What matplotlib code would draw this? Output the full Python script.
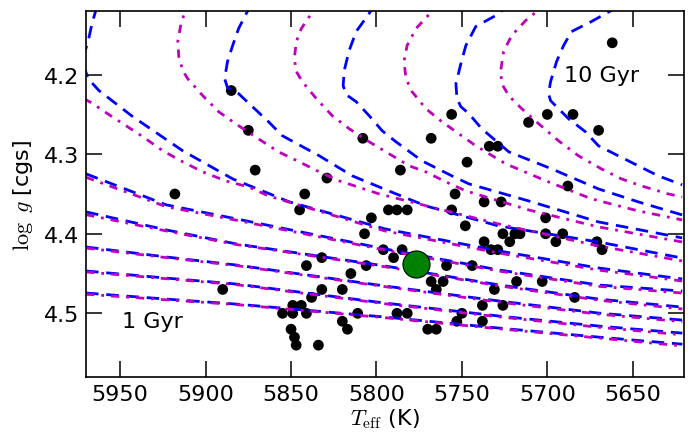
import matplotlib
matplotlib.use("Agg")
import matplotlib.pyplot as plt

plt.rcParams['mathtext.fontset'] = 'cm'
plt.rcParams['font.family'] = 'DejaVu Sans'

# young isochrones (1-5 Gyr) share one Teff grid
young_teff = [5970, 5923, 5882, 5795, 5728, 5670, 5621]

# blue (dashed) model, log g per age
b1_logg = [4.4745, 4.4821, 4.4884, 4.5047, 4.5186, 4.5299, 4.5388]
b2_logg = [4.4468, 4.4557, 4.4632, 4.4871, 4.5035, 4.5160, 4.5249]
b3_logg = [4.4166, 4.4292, 4.4393, 4.4657, 4.4846, 4.4997, 4.5085]
b4_logg = [4.3725, 4.3952, 4.4128, 4.4405, 4.4644, 4.4821, 4.4922]
b5_logg = [4.3247, 4.3637, 4.3813, 4.4191, 4.4456, 4.4644, 4.4720]

# magenta (dash-dot) model
m1_logg = [4.4760, 4.4830, 4.4890, 4.5055, 4.5195, 4.5310, 4.5410]
m2_logg = [4.4480, 4.4565, 4.4640, 4.4880, 4.5045, 4.5175, 4.5270]
m3_logg = [4.4180, 4.4300, 4.4400, 4.4665, 4.4860, 4.5010, 4.5105]
m4_logg = [4.3760, 4.3965, 4.4135, 4.4415, 4.4655, 4.4835, 4.4945]
m5_logg = [4.3290, 4.3660, 4.3830, 4.4205, 4.4470, 4.4660, 4.4745]

# older isochrones with turnoff hooks
b6_teff = [5963.6, 5966.5, 5968.8, 5972.3, 5968.8, 5962.4, 5942.6, 5913.4, 5884.2, 5851.0, 5795, 5728.5, 5670.1, 5621.1]
b6_logg = [4.1144, 4.1358, 4.1584, 4.1824, 4.2050, 4.2201, 4.2529, 4.2957, 4.3310, 4.3599, 4.3939, 4.4216, 4.4430, 4.4568]
b7_teff = [5873.2, 5880.7, 5884.2, 5887.2, 5888.9, 5887.2, 5880.7, 5872.6, 5863.2, 5855.1, 5833.5, 5814.2, 5791.5, 5771.1, 5728.5, 5670.1, 5621.1]
b7_logg = [4.1106, 4.1421, 4.1635, 4.1836, 4.2050, 4.2164, 4.2239, 4.2403, 4.2592, 4.2768, 4.3020, 4.3272, 4.3473, 4.3650, 4.3902, 4.4103, 4.4305]
b8_teff = [5800.8, 5804.3, 5811.9, 5816.0, 5818.9, 5819.5, 5817.7, 5811.9, 5804.3, 5796.7, 5788.6, 5773.4, 5755.9, 5745.9, 5711.0, 5670.1, 5621.1]
b8_logg = [4.1106, 4.1232, 4.1459, 4.1698, 4.1950, 4.2139, 4.2252, 4.2340, 4.2516, 4.2705, 4.2844, 4.3083, 4.3272, 4.3373, 4.3587, 4.3851, 4.4052]
b9_teff = [5721.5, 5730.2, 5741.9, 5747.7, 5750.6, 5753.5, 5752.9, 5750.6, 5745.9, 5738.4, 5722.6, 5697.5, 5670.1, 5646.8, 5621.1]
b9_logg = [4.1106, 4.1257, 4.1395, 4.1635, 4.1861, 4.2113, 4.2302, 4.2403, 4.2491, 4.2680, 4.2970, 4.3184, 4.3436, 4.3599, 4.3763]
b10_teff = [5658.5, 5674.2, 5685.9, 5690.5, 5694.6, 5698.1, 5699.3, 5698.1, 5695.2, 5687.6, 5677.7, 5670.1, 5658.5, 5646.8, 5635.1, 5621.1]
b10_logg = [4.1144, 4.1333, 4.1459, 4.1635, 4.1836, 4.2088, 4.2239, 4.2327, 4.2390, 4.2554, 4.2718, 4.2894, 4.3020, 4.3146, 4.3272, 4.3385]

m6_teff = [5971.2, 5965.9, 5960.1, 5948.4, 5936.7, 5925.1, 5913.4, 5901.7, 5888.3, 5874.9, 5863.2, 5795, 5728.5, 5670.1, 5621.1]
m6_logg = [4.2302, 4.2365, 4.2453, 4.2617, 4.2781, 4.2957, 4.3096, 4.3222, 4.3335, 4.3411, 4.3524, 4.3965, 4.4242, 4.4456, 4.4594]
m7_teff = [5909.3, 5912.2, 5914.6, 5916.3, 5915.7, 5913.4, 5910.5, 5901.7, 5892.4, 5880.7, 5869.1, 5857.4, 5845.2, 5833.5, 5821.8, 5798.5, 5728.5, 5670.1, 5621.1]
m7_logg = [4.1081, 4.1207, 4.1383, 4.1584, 4.1773, 4.1950, 4.2050, 4.2264, 4.2466, 4.2642, 4.2806, 4.2970, 4.3096, 4.3222, 4.3335, 4.3499, 4.3877, 4.4153, 4.4342]
m8_teff = [5835.8, 5839.3, 5844.0, 5846.9, 5848.1, 5846.9, 5843.4, 5835.2, 5825.9, 5816.0, 5804.3, 5792.6, 5780.9, 5771.1, 5759.4, 5747.7, 5711.0, 5670.1, 5621.1]
m8_logg = [4.1081, 4.1270, 4.1421, 4.1584, 4.1799, 4.1962, 4.2088, 4.2302, 4.2516, 4.2680, 4.2844, 4.2995, 4.3146, 4.3222, 4.3348, 4.3461, 4.3700, 4.3914, 4.4103]
m9_teff = [5763.5, 5767.6, 5776.9, 5782.1, 5783.9, 5782.7, 5779.2, 5771.1, 5761.7, 5751.8, 5741.9, 5724.4, 5699.3, 5674.2, 5646.8, 5621.1]
m9_logg = [4.1106, 4.1207, 4.1421, 4.1635, 4.1836, 4.2050, 4.2214, 4.2428, 4.2592, 4.2743, 4.2894, 4.3121, 4.3348, 4.3561, 4.3713, 4.3826]
m10_teff = [5700.5, 5706.3, 5712.7, 5720.9, 5725.6, 5727.3, 5726.7, 5722.6, 5715.0, 5705.1, 5693.5, 5681.8, 5668.4, 5656.7, 5645.0, 5629.3, 5621.1]
m10_logg = [4.1106, 4.1207, 4.1320, 4.1509, 4.1710, 4.1950, 4.2113, 4.2264, 4.2428, 4.2617, 4.2831, 4.3020, 4.3184, 4.3310, 4.3398, 4.3499, 4.3537]

# stars
star_teff = [5662, 5885, 5875, 5871, 5918, 5829, 5842, 5845, 5756, 5768,
             5808, 5711, 5700, 5685, 5670, 5734, 5729, 5747, 5786, 5688,
             5754, 5737, 5727, 5793, 5788, 5782, 5756, 5803, 5701, 5807,
             5748, 5796, 5785, 5790, 5832, 5841, 5806, 5772, 5815, 5759,
             5744, 5737, 5733, 5729, 5726, 5722, 5719, 5716, 5701, 5695,
             5691, 5671, 5668, 5768, 5761, 5765, 5731, 5718, 5703, 5684,
             5890, 5832, 5820, 5838, 5849, 5844, 5855, 5849, 5841, 5811,
             5820, 5817, 5850, 5848, 5847, 5834, 5738, 5726, 5738, 5750,
             5753, 5788, 5782, 5770, 5765]
star_logg = [4.16, 4.22, 4.27, 4.32, 4.35, 4.33, 4.35, 4.37, 4.25, 4.28,
             4.28, 4.26, 4.25, 4.25, 4.27, 4.29, 4.29, 4.31, 4.32, 4.34,
             4.35, 4.36, 4.36, 4.37, 4.37, 4.37, 4.37, 4.38, 4.38, 4.40,
             4.39, 4.42, 4.42, 4.43, 4.43, 4.44, 4.44, 4.44, 4.45, 4.44,
             4.44, 4.41, 4.42, 4.42, 4.40, 4.41, 4.40, 4.40, 4.40, 4.41,
             4.40, 4.41, 4.42, 4.46, 4.46, 4.47, 4.47, 4.46, 4.46, 4.48,
             4.47, 4.47, 4.47, 4.48, 4.49, 4.49, 4.50, 4.50, 4.50, 4.50,
             4.51, 4.52, 4.52, 4.53, 4.54, 4.54, 4.49, 4.49, 4.51, 4.50,
             4.51, 4.50, 4.50, 4.52, 4.52]

sun_teff = 5777
sun_logg = 4.438

blue_curves = [(young_teff, b1_logg), (young_teff, b2_logg), (young_teff, b3_logg),
               (young_teff, b4_logg), (young_teff, b5_logg), (b6_teff, b6_logg),
               (b7_teff, b7_logg), (b8_teff, b8_logg), (b9_teff, b9_logg),
               (b10_teff, b10_logg)]
mag_curves = [(young_teff, m1_logg), (young_teff, m2_logg), (young_teff, m3_logg),
              (young_teff, m4_logg), (young_teff, m5_logg), (m6_teff, m6_logg),
              (m7_teff, m7_logg), (m8_teff, m8_logg), (m9_teff, m9_logg),
              (m10_teff, m10_logg)]

fig = plt.figure(figsize=(6.91, 4.39), dpi=100)
ax = fig.add_axes([0.1245, 0.139, 0.8654, 0.8337])

ax.scatter(star_teff, star_logg, s=60, c='k', edgecolors='none', zorder=1)

for t, g in blue_curves:
    ax.plot(t, g, color='b', lw=2.0, ls=(0, (4.5, 2.8)), zorder=2,
            solid_joinstyle='round', dash_joinstyle='round')
for t, g in mag_curves:
    ax.plot(t, g, color='m', lw=2.0, ls=(0, (3, 2.5, 1, 2.5)), zorder=2,
            dash_joinstyle='round')

ax.scatter([sun_teff], [sun_logg], s=380, c='green', edgecolors='k',
           linewidths=0.8, zorder=3)

ax.text(5949, 4.51, '1 Gyr', fontsize=16, va='center', ha='left')
ax.text(5690, 4.20, '10 Gyr', fontsize=16, va='center', ha='left')

ax.set_xlim(5970, 5620)
ax.set_ylim(4.58, 4.12)
ax.set_xticks([5950, 5900, 5850, 5800, 5750, 5700, 5650])
ax.set_yticks([4.2, 4.3, 4.4, 4.5])
ax.tick_params(direction='in', length=11.5, width=1.1, labelsize=16,
               top=True, right=True, pad=5)
for sp in ax.spines.values():
    sp.set_linewidth(1.2)

ax.set_xlabel(r'$T_{\rm eff}$ (K)', fontsize=16, labelpad=2)
ax.set_ylabel(r'$\log\ g$ [cgs]', fontsize=16, labelpad=6)

fig.savefig('out.png', dpi=100)
